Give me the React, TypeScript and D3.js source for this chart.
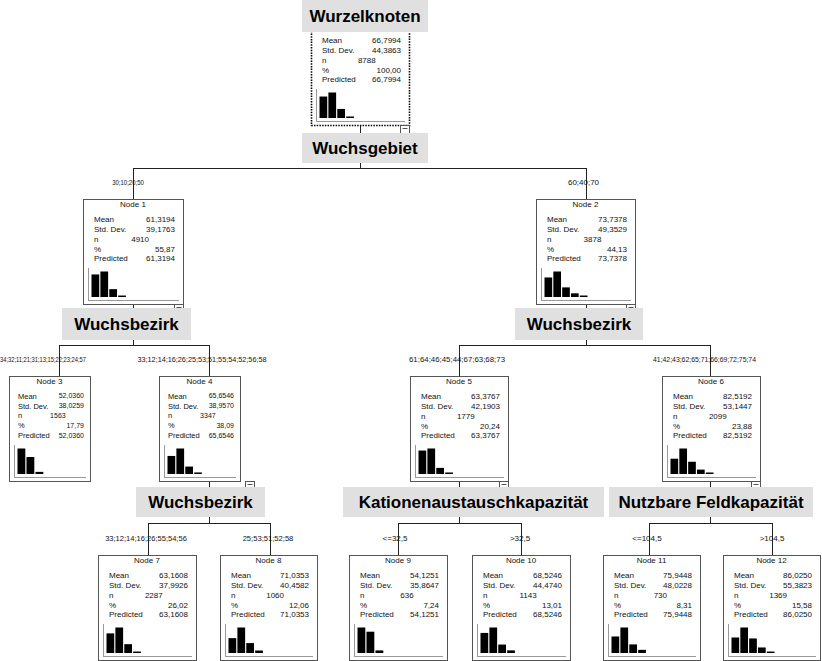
import React from 'react';
import * as d3 from 'd3';

// ---------- data ----------
const nodeNames = ['Node 0', 'Node 1', 'Node 2', 'Node 3', 'Node 4', 'Node 5', 'Node 6', 'Node 7', 'Node 8', 'Node 9', 'Node 10', 'Node 11', 'Node 12'];
const nodeMean = [66.7994, 61.3194, 73.7378, 52.036, 65.6546, 63.3767, 82.5192, 63.1608, 71.0353, 54.1251, 68.5246, 75.9448, 86.025];
const nodeStdDev = [44.3863, 39.1763, 49.3529, 38.0259, 38.957, 42.1903, 53.1447, 37.9926, 40.4582, 35.8647, 44.474, 48.0228, 55.3823];
const nodeN = [8788, 4910, 3878, 1563, 3347, 1779, 2099, 2287, 1060, 636, 1143, 730, 1369];
const nodePct = [100.0, 55.87, 44.13, 17.79, 38.09, 20.24, 23.88, 26.02, 12.06, 7.24, 13.01, 8.31, 15.58];
const nodeHist = [
  [21.3, 25.3, 9, 1.3],
  [23, 26, 8, 1.5],
  [19.7, 25.7, 9.7, 3.7, 1],
  [24, 16, 2],
  [17, 24, 7, 0.8],
  [23, 25, 6, 1.3],
  [15, 25, 12, 4.3, 0.8],
  [20, 26, 9, 1.5],
  [15, 25.7, 10, 2.5],
  [26.7, 22.3, 2.7],
  [20.7, 26.3, 8.7, 2.7],
  [17.3, 26.7, 9, 3.3],
  [16, 26.3, 15, 5.7, 1.3],
];
const rootTitle = 'Wurzelknoten';
const splitParents = [0, 1, 2, 4, 5, 6];
const splitVariables = ['Wuchsgebiet', 'Wuchsbezirk', 'Wuchsbezirk', 'Wuchsbezirk', 'Kationenaustauschkapazität', 'Nutzbare Feldkapazität'];
const edgeParents = [0, 0, 1, 1, 2, 2, 4, 4, 5, 5, 6, 6];
const edgeChildren = [1, 2, 3, 4, 5, 6, 7, 8, 9, 10, 11, 12];
const edgeLabels = [
  '30;10;20;50',
  '60;40;70',
  '34;32;11;21;31;13;15;22;23;24;57',
  '33;12;14;16;26;25;53;51;55;54;52;56;58',
  '61;64;46;45;44;67;63;68;73',
  '41;42;43;62;65;71;66;69;72;75;74',
  '33;12;14;16;26;55;54;56',
  '25;53;51;52;58',
  '<=32,5',
  '>32,5',
  '<=104,5',
  '>104,5',
];
const statLabels = ['Mean', 'Std. Dev.', 'n', '%', 'Predicted'];

// ---------- layout (diagram geometry) ----------
const boxLeft = [311, 83, 536, 9, 159, 410, 662, 98, 220, 349, 472, 603, 723];
const boxTop = [20, 199, 199, 376, 376, 376, 376, 555, 555, 555, 555, 555, 555];
const boxWidth = [98, 100, 99, 81, 81, 98, 98, 98, 97, 98, 98, 97, 97];
const BOX_H = 105;
const stemX = [360, 133, 586, 59, 209, 459, 710, 148, 270, 398, 521, 649, 772];
const edgeLabelX = [128, 583.5, 43, 202, 457, 704.5, 146, 268, 395, 520, 647, 772];
const edgeLabelWidth = [31.7, 31, 86, 129, 96, 103, 81.7, 50.7, 0, 0, 0, 0];
const splitBusY = [168, 345, 345, 523, 523, 523];
const splitRectX0 = [302, 62, 515, 136, 343, 609];
const splitRectX1 = [428, 191, 643, 265, 604, 813];
const splitRectY0 = [133, 308, 308, 487, 487, 487];
const splitRectY1 = [163, 340, 340, 517, 517, 517];
const minusOverride: Record<number, number> = { 4: 245 };

const FONT = "Arial, 'Liberation Sans', sans-serif";
const comma = (s: string) => s.replace('.', ',');
const f4 = (v: number) => comma(d3.format('.4f')(v));
const f2 = (v: number) => comma(d3.format('.2f')(v));

function NodeBox({ i }: { i: number }) {
  const x = boxLeft[i];
  const y = boxTop[i];
  const w = boxWidth[i];
  const h = BOX_H;
  const narrow = w < 90;
  const values = [f4(nodeMean[i]), f4(nodeStdDev[i]), String(nodeN[i]), f2(nodePct[i]), f4(nodeMean[i])];
  const hist = nodeHist[i];
  const axisX = x + 5;
  const axisY = y + h - 4;
  const barBase = axisY - 3;
  const xs = d3
    .scaleBand<number>()
    .domain(d3.range(hist.length))
    .range([axisX + 3.5, axisX + 3.5 + hist.length * 8.6])
    .paddingInner(0.13);
  const ys = d3.scaleLinear().domain([0, d3.max(hist) as number]).range([barBase, barBase - 25.5]);
  const isRoot = i === 0;
  return (
    <g>
      <rect x={x + 0.5} y={y + 0.5} width={w} height={h} fill="#fff" stroke={isRoot ? '#000' : '#555'}
        strokeWidth={isRoot ? 1.6 : 1} strokeDasharray={isRoot ? '1.5,1.2' : undefined} />
      {!isRoot && (
        <text x={x + w / 2} y={y + 5} dy="0.35em" textAnchor="middle" fontSize={8} fontFamily={FONT} fill="#111">
          {nodeNames[i]}
        </text>
      )}
      {statLabels.map((lab, k) => {
        const ty = y + 20 + k * 9.9;
        return (
          <g key={lab}>
            <text x={x + Math.round(w * 0.11)} y={ty} dy="0.35em" fontSize={narrow ? 7.5 : 8} fontFamily={FONT} fill="#111">{lab}</text>
            <text x={k === 2 ? x + w * (narrow ? 0.7 : 0.66) : x + w - Math.round(w * 0.08)} y={ty} dy="0.35em" textAnchor="end"
              fontSize={narrow ? 7 : 8} fontFamily={FONT} fill="#111">{values[k]}</text>
          </g>
        );
      })}
      <line x1={axisX + 0.5} x2={axisX + 0.5} y1={y + 69} y2={axisY + 0.5} stroke="#999" />
      <line x1={axisX} x2={x + w - 4} y1={axisY + 0.5} y2={axisY + 0.5} stroke="#999" />
      {hist.map((v, k) => (
        <rect key={k} x={xs(k)} width={xs.bandwidth()} y={ys(v) - (v < 1.5 ? 1.5 - v : 0)}
          height={Math.max(1.5, barBase - ys(v))} fill="#000" />
      ))}
    </g>
  );
}

export default function App() {
  const W = 822;
  const H = 661;
  return (
    <svg width={W} height={H} style={{ position: 'absolute', left: 0, top: 0, background: '#fff' }}
      xmlns="http://www.w3.org/2000/svg">
      <rect width={W} height={H} fill="#fff" />
      {splitParents.map((p, s) => (
        <line key={'stem' + p} x1={stemX[p] + 0.5} x2={stemX[p] + 0.5} y1={boxTop[p] + BOX_H} y2={splitBusY[s]} stroke="#222" />
      ))}
      {splitParents.map((p, s) => {
        const kids = edgeChildren.filter((_, e) => edgeParents[e] === p);
        const xsKids = kids.map((c) => stemX[c]);
        return (
          <g key={'bus' + p}>
            <line x1={Math.min(...xsKids) + 0.5} x2={Math.max(...xsKids) + 0.5} y1={splitBusY[s] + 0.5} y2={splitBusY[s] + 0.5} stroke="#222" />
            {kids.map((c) => (
              <line key={c} x1={stemX[c] + 0.5} x2={stemX[c] + 0.5} y1={splitBusY[s]} y2={boxTop[c]} stroke="#222" />
            ))}
          </g>
        );
      })}
      {nodeNames.map((_, i) => (
        <NodeBox key={i} i={i} />
      ))}
      {splitParents.map((p) => {
        const mx = minusOverride[p] ?? boxLeft[p] + boxWidth[p] - 9;
        const my = boxTop[p] + BOX_H;
        return (
          <g key={'minus' + p}>
            <rect x={mx + 0.5} y={my + 0.5} width={9} height={8} fill="#fff" stroke="#555" />
            <line x1={mx + 2.5} x2={mx + 7.5} y1={my + 3.5} y2={my + 3.5} stroke="#555" />
          </g>
        );
      })}
      {edgeLabels.map((lab, e) => {
        const c = edgeChildren[e];
        const ly = boxTop[c] - 17;
        const tl = edgeLabelWidth[e];
        return (
          <text key={'el' + e} x={edgeLabelX[e]} y={ly} dy="0.35em" textAnchor="middle" fontSize={8} fontFamily={FONT} fill="#111"
            textLength={tl > 0 ? tl : undefined} lengthAdjust={tl > 0 ? 'spacingAndGlyphs' : undefined}>
            {lab}
          </text>
        );
      })}
      {splitParents.map((p, s) => (
        <g key={'sv' + p}>
          <rect x={splitRectX0[s]} y={splitRectY0[s]} width={splitRectX1[s] - splitRectX0[s]} height={splitRectY1[s] - splitRectY0[s]} fill="#e0e0e0" />
          <text x={(splitRectX0[s] + splitRectX1[s]) / 2} y={(splitRectY0[s] + splitRectY1[s]) / 2} dy="0.36em" textAnchor="middle"
            fontSize={17} fontWeight="bold" fontFamily={FONT} fill="#000">
            {splitVariables[s]}
          </text>
        </g>
      ))}
      <rect x={302} y={0} width={126} height={32} fill="#e0e0e0" />
      <text x={365} y={16} dy="0.36em" textAnchor="middle" fontSize={17} fontWeight="bold" fontFamily={FONT} fill="#000">
        {rootTitle}
      </text>
    </svg>
  );
}
